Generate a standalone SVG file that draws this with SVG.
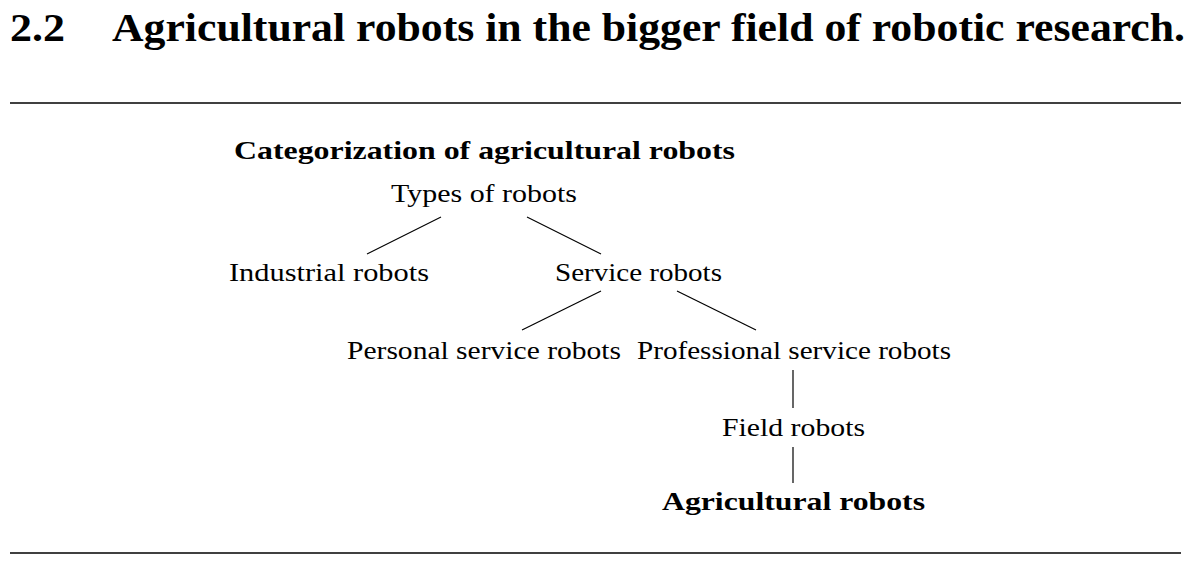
<svg xmlns="http://www.w3.org/2000/svg" width="1188" height="567" viewBox="0 0 1188 567">
<style>
text{font-family:"Liberation Serif","Times New Roman",serif;fill:#000}
.t{font-size:39px;font-weight:bold}
.n{font-size:25px}
.b{font-size:25px;font-weight:bold}
.rule{stroke:#000;stroke-width:1.3}
.c line{stroke:#000;stroke-width:1.2}
</style>
<rect width="1188" height="567" fill="#fff"/>
<g id="heading">
<text class="t" x="10" y="41" textLength="55" lengthAdjust="spacingAndGlyphs">2.2</text>
<text class="t" x="112" y="41" textLength="1073" lengthAdjust="spacingAndGlyphs">Agricultural robots in the bigger field of robotic research.</text>
</g>
<line class="rule" x1="10" y1="103" x2="1181" y2="103"/>
<line class="rule" x1="10" y1="553" x2="1181" y2="553"/>
<g id="caption"><text class="b" x="234" y="159" textLength="501" lengthAdjust="spacingAndGlyphs">Categorization of agricultural robots</text></g>
<g id="types"><text class="n" x="391" y="202" textLength="186" lengthAdjust="spacingAndGlyphs">Types of robots</text></g>
<g id="industrial"><text class="n" x="229" y="281" textLength="200" lengthAdjust="spacingAndGlyphs">Industrial robots</text></g>
<g id="service"><text class="n" x="555" y="281" textLength="167" lengthAdjust="spacingAndGlyphs">Service robots</text></g>
<g id="personal"><text class="n" x="347" y="359" textLength="274" lengthAdjust="spacingAndGlyphs">Personal service robots</text></g>
<g id="professional"><text class="n" x="637" y="359" textLength="314" lengthAdjust="spacingAndGlyphs">Professional service robots</text></g>
<g id="field"><text class="n" x="722" y="436" textLength="143" lengthAdjust="spacingAndGlyphs">Field robots</text></g>
<g id="agricultural"><text class="b" x="662" y="510" textLength="263" lengthAdjust="spacingAndGlyphs">Agricultural robots</text></g>
<g id="connectors" class="c">
<line x1="441" y1="217" x2="367" y2="254"/>
<line x1="527" y1="217" x2="601" y2="254"/>
<line x1="601" y1="291" x2="522" y2="330"/>
<line x1="677" y1="291" x2="756" y2="330"/>
<line x1="793" y1="370" x2="793" y2="408"/>
<line x1="793" y1="447" x2="793" y2="483"/>
</g>
</svg>
